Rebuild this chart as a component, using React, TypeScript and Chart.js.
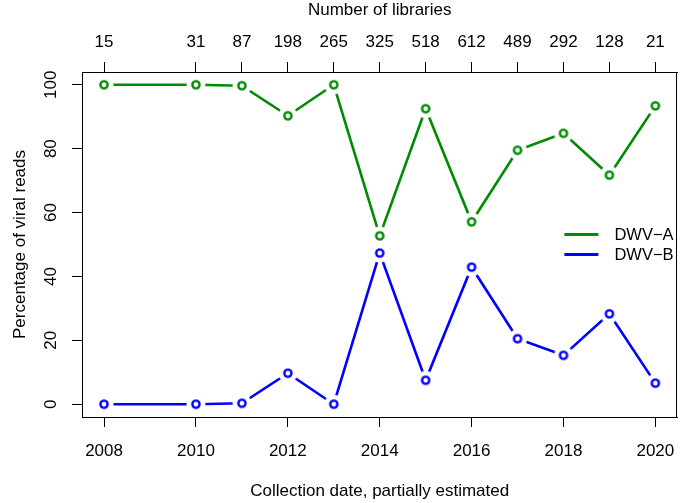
import { useEffect, useRef } from 'react';
import { Chart, registerables } from 'chart.js';

Chart.register(...registerables);

const years = [2008, 2010, 2011, 2012, 2013, 2014, 2015, 2016, 2017, 2018, 2019, 2020];
const libraries = [15, 31, 87, 198, 265, 325, 518, 612, 489, 292, 128, 21];
const dwvA = [100, 100, 99.7, 90.3, 100, 52.7, 92.5, 57.1, 79.5, 84.8, 71.7, 93.4];
const dwvB = [0, 0, 0.3, 9.7, 0, 47.3, 7.5, 42.9, 20.5, 15.3, 28.3, 6.6];
const xTicks = [2008, 2010, 2012, 2014, 2016, 2018, 2020];
const yTicks = [0, 20, 40, 60, 80, 100];
const seriesNames = ['DWV\u2212A', 'DWV\u2212B'];
const seriesColors = ['#008B00', '#0000FF'];

const FONT = "'Liberation Sans', Arial, Helvetica, sans-serif";

function makeMarker(color: string): HTMLCanvasElement {
  const c = document.createElement('canvas');
  c.width = 22;
  c.height = 22;
  const g = c.getContext('2d')!;
  g.fillStyle = '#ffffff';
  g.beginPath();
  g.arc(11, 11, 9.5, 0, Math.PI * 2);
  g.fill();
  g.strokeStyle = color;
  g.lineWidth = 2.4;
  g.beginPath();
  g.arc(11, 11, 3.6, 0, Math.PI * 2);
  g.stroke();
  return c;
}

const framePlugin = {
  id: 'frameAndLegend',
  afterDraw(chart: any) {
    const { ctx, chartArea: a } = chart;
    ctx.save();
    ctx.strokeStyle = '#000';
    ctx.lineWidth = 1;
    const l = Math.round(a.left) + 0.5;
    const t = Math.round(a.top) + 0.5;
    const r = Math.round(a.right) - 0.5;
    const b = Math.round(a.bottom) + 0.5;
    ctx.strokeRect(l, t, r - l, b - t);

    // legend (R "right" position, no box)
    const cy = (a.top + a.bottom) / 2;
    const rowH = 20;
    chart.data.datasets.forEach((ds: any, i: number) => {
      const y = cy + (i - 0.5) * rowH;
      ctx.strokeStyle = ds.borderColor;
      ctx.lineWidth = 3;
      ctx.beginPath();
      ctx.moveTo(a.right - 113, y);
      ctx.lineTo(a.right - 79, y);
      ctx.stroke();
      ctx.fillStyle = '#000';
      ctx.font = `16.5px ${FONT}`;
      ctx.textAlign = 'left';
      ctx.textBaseline = 'middle';
      ctx.fillText(ds.label, a.right - 63, y + 0.5);
    });
    ctx.restore();
  },
};

export default function App() {
  const ref = useRef<HTMLCanvasElement | null>(null);

  useEffect(() => {
    if (!ref.current) return;
    const markers = seriesColors.map(makeMarker);
    const tickFont = { family: FONT, size: 17 };
    const chart = new Chart(ref.current, {
      type: 'line',
      data: {
        datasets: [
          {
            label: seriesNames[0],
            data: years.map((yr, i) => ({ x: yr, y: dwvA[i] })),
            borderColor: seriesColors[0],
            backgroundColor: seriesColors[0],
            borderWidth: 2.6,
            pointStyle: markers[0] as any,
            pointRadius: 4,
            tension: 0,
          },
          {
            label: seriesNames[1],
            data: years.map((yr, i) => ({ x: yr, y: dwvB[i] })),
            borderColor: seriesColors[1],
            backgroundColor: seriesColors[1],
            borderWidth: 2.6,
            pointStyle: markers[1] as any,
            pointRadius: 4,
            tension: 0,
          },
        ],
      },
      options: {
        responsive: false,
        animation: false,
        layout: { padding: 0 },
        plugins: {
          legend: { display: false },
          tooltip: { enabled: false },
        },
        scales: {
          x: {
            type: 'linear',
            position: 'bottom',
            min: 2007.52,
            max: 2020.48,
            afterBuildTicks: (s: any) => {
              s.ticks = xTicks.map((v) => ({ value: v }));
            },
            afterFit: (s: any) => {
              s.height = 86;
              s.paddingLeft = 0;
              s.paddingRight = 0;
            },
            ticks: {
              font: tickFont,
              color: '#000',
              padding: 14.4,
              maxRotation: 0,
              minRotation: 0,
              autoSkip: false,
              callback: (v: any) => String(v),
            },
            grid: {
              drawOnChartArea: false,
              drawTicks: true,
              tickLength: 10,
              color: '#000',
              lineWidth: 1,
            },
            border: { display: true, color: '#000', width: 1 },
            title: {
              display: true,
              text: 'Collection date, partially estimated',
              font: tickFont,
              color: '#000',
              padding: { top: 0, bottom: 1.7 },
            },
          },
          xTop: {
            type: 'linear',
            position: 'top',
            min: 2007.52,
            max: 2020.48,
            afterBuildTicks: (s: any) => {
              s.ticks = years.map((v) => ({ value: v }));
            },
            afterFit: (s: any) => {
              s.height = 72;
              s.paddingLeft = 0;
              s.paddingRight = 0;
            },
            ticks: {
              font: tickFont,
              color: '#000',
              padding: 9.7,
              maxRotation: 0,
              minRotation: 0,
              autoSkip: false,
              callback: (_v: any, i: number) => String(libraries[i]),
            },
            grid: {
              drawOnChartArea: false,
              drawTicks: true,
              tickLength: 10,
              color: '#000',
              lineWidth: 1,
            },
            border: { display: true, color: '#000', width: 1 },
            title: {
              display: true,
              text: 'Number of libraries',
              font: tickFont,
              color: '#000',
              padding: { top: 0.6, bottom: 0 },
            },
          },
          y: {
            type: 'linear',
            position: 'left',
            min: -4,
            max: 104,
            afterBuildTicks: (s: any) => {
              s.ticks = yTicks.map((v) => ({ value: v }));
            },
            afterFit: (s: any) => {
              s.width = 82;
              s.paddingTop = 0;
              s.paddingBottom = 0;
            },
            ticks: {
              font: tickFont,
              color: '#000',
              padding: 7,
              minRotation: 90,
              maxRotation: 90,
              crossAlign: 'center',
              autoSkip: false,
              callback: (v: any) => String(v),
            },
            grid: {
              drawOnChartArea: false,
              drawTicks: true,
              tickLength: 10,
              color: '#000',
              lineWidth: 1,
            },
            border: { display: true, color: '#000', width: 1 },
            title: {
              display: true,
              text: 'Percentage of viral reads',
              font: tickFont,
              color: '#000',
              padding: { top: 10, bottom: 0 },
            },
          },
        },
      },
      plugins: [framePlugin],
    } as any);
    return () => chart.destroy();
  }, []);

  return (
    <div style={{ position: 'fixed', left: 0, top: 0, width: 684, height: 503, background: '#fff' }}>
      <canvas ref={ref} width={684} height={503} style={{ display: 'block' }} />
    </div>
  );
}
